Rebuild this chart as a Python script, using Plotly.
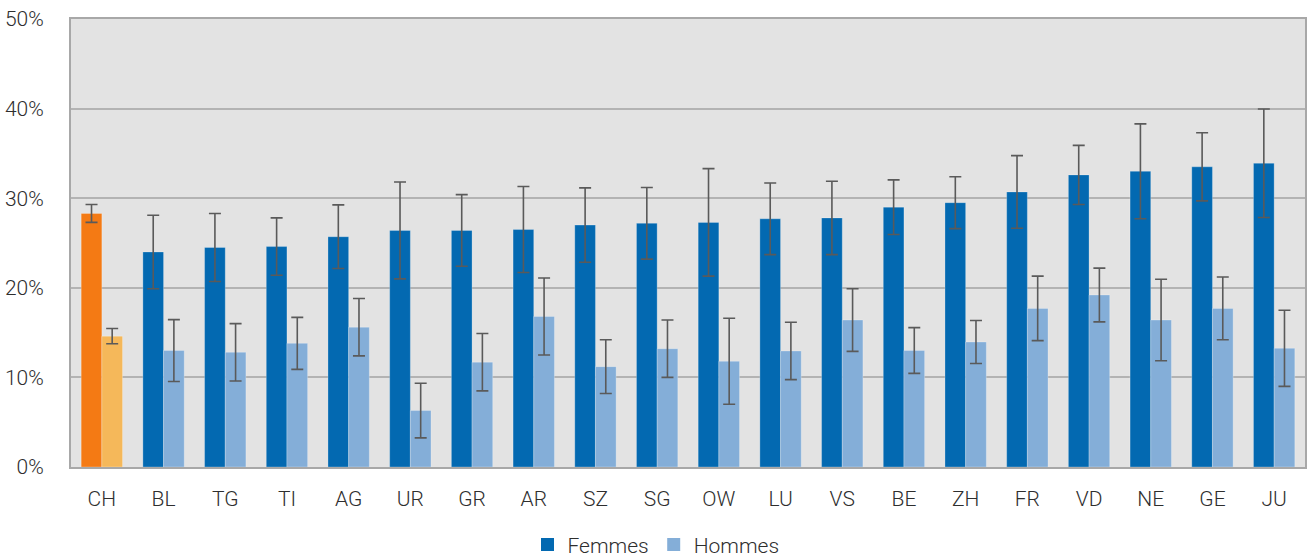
import plotly.graph_objects as go

# Cantons (CH = Suisse) and shares in percent
cantons = ["CH", "BL", "TG", "TI", "AG", "UR", "GR", "AR", "SZ", "SG",
           "OW", "LU", "VS", "BE", "ZH", "FR", "VD", "NE", "GE", "JU"]

femmes = [28.3, 24.0, 24.5, 24.6, 25.7, 26.4, 26.4, 26.5, 27.0, 27.2,
          27.3, 27.7, 27.8, 29.0, 29.5, 30.7, 32.6, 33.0, 33.5, 33.9]
femmes_err = [1.0, 4.1, 3.8, 3.2, 3.55, 5.4, 4.0, 4.8, 4.15, 4.0,
              6.0, 4.0, 4.1, 3.05, 2.9, 4.05, 3.3, 5.3, 3.8, 6.05]

hommes = [14.6, 13.0, 12.8, 13.8, 15.6, 6.3, 11.7, 16.8, 11.2, 13.2,
          11.8, 12.95, 16.4, 13.0, 13.95, 17.7, 19.2, 16.4, 17.7, 13.25]
hommes_err = [0.85, 3.45, 3.2, 2.9, 3.2, 3.05, 3.2, 4.3, 3.0, 3.2,
              4.8, 3.2, 3.5, 2.55, 2.4, 3.6, 3.0, 4.55, 3.5, 4.25]

y_ticks = [0, 10, 20, 30, 40, 50]
y_tick_text = ["0%", "10%", "20%", "30%", "40%", "50%"]

BLUE_DARK = "#0369b1"
BLUE_LIGHT = "#84aed8"
ORANGE_DARK = "#f47a14"
ORANGE_LIGHT = "#f5b85a"

# Switzerland as a whole is highlighted in orange
f_colors = [ORANGE_DARK if c == "CH" else BLUE_DARK for c in cantons]
h_colors = [ORANGE_LIGHT if c == "CH" else BLUE_LIGHT for c in cantons]

err_style = dict(type="data", visible=True, color="#5a5a5a", thickness=1.6, width=6)
edge = dict(color="rgba(255,255,255,0.25)", width=1)

TEXT = dict(family="Roboto, Arial, sans-serif", size=21, color="#2e2e2e", weight=300)

fig = go.Figure()
fig.add_trace(go.Bar(
    name="Femmes", x=cantons, y=femmes, showlegend=False,
    marker=dict(color=f_colors, line=edge),
    error_y=dict(array=femmes_err, **err_style),
))
fig.add_trace(go.Bar(
    name="Hommes", x=cantons, y=hommes, showlegend=False,
    marker=dict(color=h_colors, line=edge),
    error_y=dict(array=hommes_err, **err_style),
))

# Legend entries in the series' blue colours
for name, color in (("Femmes", BLUE_DARK), ("Hommes", BLUE_LIGHT)):
    fig.add_trace(go.Scatter(
        name=name, x=[None], y=[None], mode="markers",
        marker=dict(symbol="square", size=13, color=color),
        showlegend=True, hoverinfo="skip",
    ))

fig.update_layout(
    width=1312, height=560,
    margin=dict(l=70, r=5, t=19, b=93),
    barmode="group", bargap=0.33, bargroupgap=0,
    paper_bgcolor="white", plot_bgcolor="#e3e3e3",
    font=TEXT,
    showlegend=True,
    legend=dict(orientation="h", xref="container", x=0.5, xanchor="center",
                yref="container", y=0.027, yanchor="middle",
                font=TEXT,
                itemwidth=30, tracegroupgap=0, traceorder="normal",
                bgcolor="rgba(0,0,0,0)"),
)

fig.update_xaxes(
    showline=True, linecolor="#a8a8a8", linewidth=2, mirror=True,
    showgrid=False, ticks="", ticklabelstandoff=12,
    tickfont=TEXT,
)
fig.update_yaxes(
    range=[0, 50], tickmode="array", tickvals=y_ticks, ticktext=y_tick_text,
    showline=True, linecolor="#a8a8a8", linewidth=2, mirror=True,
    showgrid=True, gridcolor="#b3b3b3", gridwidth=1.5,
    zeroline=False, ticks="", ticklabelstandoff=21,
    tickfont=TEXT,
)

fig.write_html("out.html")
